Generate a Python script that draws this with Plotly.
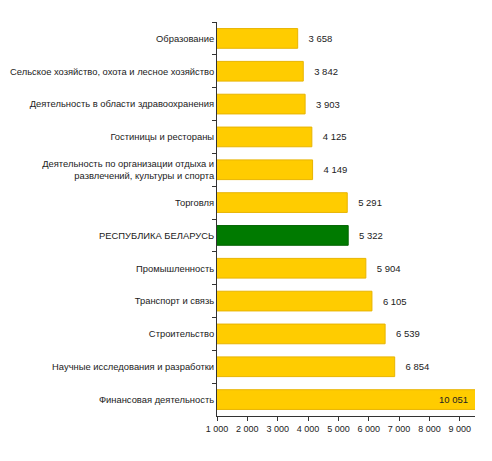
import plotly.graph_objects as go

categories = [
    "Образование",
    "Сельское хозяйство, охота и лесное хозяйство",
    "Деятельность в области здравоохранения",
    "Гостиницы и рестораны",
    "Деятельность по организации отдыха и<br>развлечений, культуры и спорта",
    "Торговля",
    "РЕСПУБЛИКА БЕЛАРУСЬ",
    "Промышленность",
    "Транспорт и связь",
    "Строительство",
    "Научные исследования и разработки",
    "Финансовая деятельность",
]
values = [3658, 3842, 3903, 4125, 4149, 5291, 5322, 5904, 6105, 6539, 6854, 10051]

colors = ["#007A00" if c == "РЕСПУБЛИКА БЕЛАРУСЬ" else "#FFCC00" for c in categories]
borders = ["#006400" if c == "РЕСПУБЛИКА БЕЛАРУСЬ" else "#E8B400" for c in categories]
xmax = 9500
# values past the axis end get their label placed inside the plot instead
positions = ["none" if v > xmax else "outside" for v in values]

fig = go.Figure(go.Bar(
    x=values, y=categories, orientation="h",
    marker=dict(color=colors, line=dict(color=borders, width=1)),
    texttemplate="   %{x:,d}",
    textposition=positions,
    textfont=dict(color="#222222", size=9.5),
    width=0.6,
    cliponaxis=True,
))

for c, v in zip(categories, values):
    if v > xmax:
        fig.add_annotation(x=xmax, y=c, text="{:,}".format(v).replace(",", " "),
                           xanchor="right", xshift=-5, showarrow=False,
                           font=dict(size=9.5, color="#222222"))

# page body adds an 8px offset, so the figure is 8px smaller than the window
fig.update_layout(
    width=484, height=453,
    margin=dict(l=209, r=17, t=14, b=45),
    paper_bgcolor="white", plot_bgcolor="white",
    font=dict(family="Liberation Sans, Arial", size=9.4, color="#222222"),
    separators=". ",
    showlegend=False,
)
fig.update_xaxes(
    range=[1000, xmax], tickvals=list(range(1000, 10000, 1000)), tickformat=",d",
    showgrid=False, zeroline=False, showline=True, linecolor="#333333", linewidth=1,
    ticks="outside", ticklen=4, tickcolor="#333333", tickfont=dict(size=9),
)
fig.update_yaxes(
    autorange="reversed", showgrid=False, showline=True, linecolor="#333333", linewidth=1,
    ticks="outside", ticklen=4, tickcolor="#333333", tickson="boundaries",
    automargin=False,
)

fig.write_html("out.html")
